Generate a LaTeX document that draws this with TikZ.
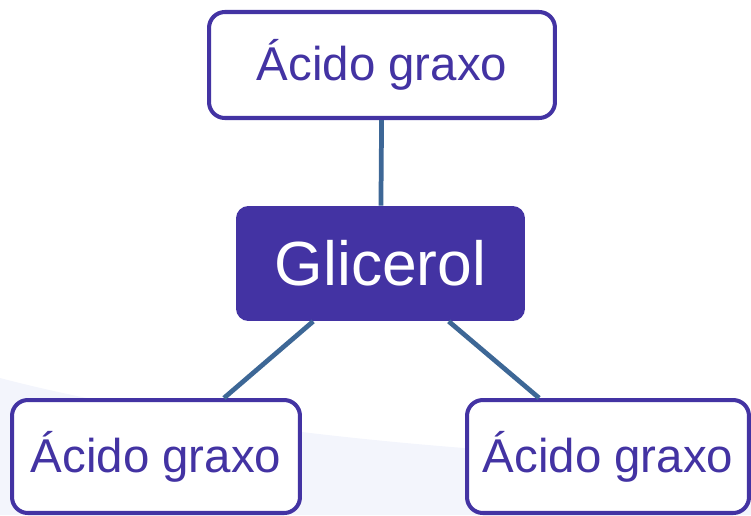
\documentclass[tikz,border=0pt]{standalone}
\usepackage{fontspec}
\setmainfont{Liberation Sans}
\usepackage{xcolor}
\definecolor{roxo}{HTML}{4333A3}
\definecolor{ligacao}{HTML}{3D6796}
\definecolor{fundo}{HTML}{F3F5FC}

\begin{document}
\begin{tikzpicture}[x=0.02cm, y=-0.02cm,
  acido/.style={rectangle, rounded corners=9pt, draw=roxo, line width=2.3pt, fill=white, text=roxo, inner sep=0pt, minimum height=2.2cm, font=\fontsize{27}{30}\selectfont},
  glic/.style={rectangle, rounded corners=7pt, fill=roxo, text=white, inner sep=0pt, minimum width=5.78cm, minimum height=2.3cm, font=\fontsize{35.5}{40}\selectfont},
  bond/.style={line width=2.7pt, draw=ligacao}
]
\useasboundingbox (0,0) rectangle (751,515);
% faint background swoosh
\fill[fundo] (0,378) .. controls (160,420) and (420,455) .. (751,462) -- (751,515) -- (0,515) -- cycle;
\node[glic] (g) at (380.5,263.5) {Glicerol};
\node[acido, minimum width=6.92cm, minimum height=2.12cm] (a1) at (382,65) {Ácido graxo};
\node[acido, minimum width=5.76cm, minimum height=2.26cm] (a2) at (156,456.5) {Ácido graxo};
\node[acido, minimum width=5.64cm, minimum height=2.26cm] (a3) at (608,456.5) {Ácido graxo};
\draw[bond] (a1) -- (g);
\draw[bond] (g) -- (a2);
\draw[bond] (g) -- (a3);
\end{tikzpicture}
\end{document}
